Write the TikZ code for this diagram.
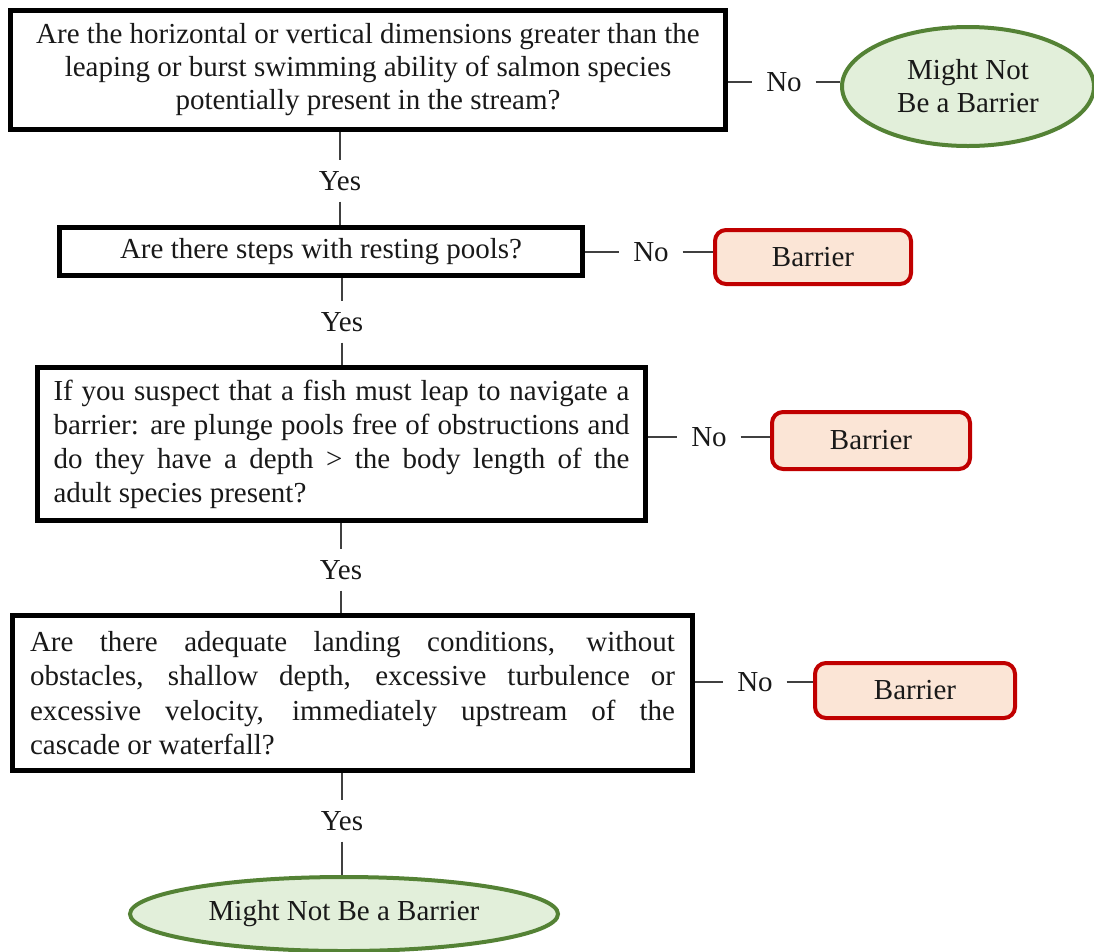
\documentclass[tikz,border=0pt]{standalone}
\usepackage{fontspec}
\setmainfont{Liberation Serif}
\usetikzlibrary{shapes.geometric}
\definecolor{grn}{HTML}{548235}
\definecolor{grnfill}{HTML}{E2EFDA}
\definecolor{red0}{HTML}{C00000}
\definecolor{redfill}{HTML}{FBE5D6}
\definecolor{conn}{HTML}{404040}
\begin{document}
\begin{tikzpicture}[x=1pt,y=-1pt,
  every node/.style={font=\fontsize{29}{33}\selectfont, text=black!90},
  qbox/.style={draw=black, line width=5pt, fill=white, rectangle, inner sep=0pt},
  barrierbox/.style={draw=red0, fill=redfill, line width=4pt, rounded corners=11pt, inner sep=0pt},
  endell/.style={draw=grn, fill=grnfill, line width=4pt, ellipse, inner sep=0pt, align=center},
  yeslbl/.style={inner xsep=0pt, inner ysep=11pt, outer sep=0pt},
  nolbl/.style={inner xsep=14pt, inner ysep=0pt, outer sep=0pt},
  link/.style={draw=conn, line width=2pt}]
\useasboundingbox (0,0) rectangle (1094,951);

% question boxes
\node[qbox, minimum width=715pt, minimum height=119pt, align=center] (q1) at (368,70)
  {Are the horizontal or vertical dimensions greater than the\\leaping or burst swimming ability of salmon species\\potentially present in the stream?};
\node[qbox, minimum width=523pt, minimum height=48pt] (q2) at (321,251.5)
  {\raisebox{-1.5pt}{Are there steps with resting pools?}};
\node[qbox, minimum width=608pt, minimum height=153pt] (q3) at (341.5,444)
  {\parbox{576pt}{\fontsize{29}{34}\selectfont If you suspect that a fish must leap to navigate a\linebreak[4] barrier: are plunge pools free of obstructions and\linebreak[4] do they have a depth > the body length of the\linebreak[4] adult species present?}};
\node[qbox, minimum width=680pt, minimum height=155pt] (q4) at (352.5,693)
  {\parbox{645pt}{\fontsize{29}{34.5}\selectfont Are there adequate landing conditions, without\linebreak[4] obstacles, shallow depth, excessive turbulence or\linebreak[4] excessive velocity, immediately upstream of the\linebreak[4] cascade or waterfall?}};

% outcomes
\node[endell, minimum width=252pt, minimum height=119pt] (e1) at (968,86.5) {Might Not\\Be a Barrier};
\node[barrierbox, minimum width=196pt, minimum height=54pt] (b1) at (813,257) {Barrier};
\node[barrierbox, minimum width=198pt, minimum height=57pt] (b2) at (871,440.5) {Barrier};
\node[barrierbox, minimum width=200pt, minimum height=55pt] (b3) at (915,690.5) {Barrier};
\node[endell, minimum width=428pt, minimum height=74pt] (e2) at (344,914) {\raisebox{-2pt}{Might Not Be a Barrier}};

% labels
\node[yeslbl] (y1) at (340,181) {Yes};
\node[yeslbl] (y2) at (342,322) {Yes};
\node[yeslbl] (y3) at (341,570) {Yes};
\node[yeslbl] (y4) at (342,821) {Yes};
\node[nolbl] (n1) at (784,82) {No};
\node[nolbl] (n2) at (651,252) {No};
\node[nolbl] (n3) at (709,437) {No};
\node[nolbl] (n4) at (755,682) {No};

% connectors: Yes
\draw[link] (y1 |- q1.south) -- (y1.north);
\draw[link] (y1.south) -- (y1 |- q2.north);
\draw[link] (y2 |- q2.south) -- (y2.north);
\draw[link] (y2.south) -- (y2 |- q3.north);
\draw[link] (y3 |- q3.south) -- (y3.north);
\draw[link] (y3.south) -- (y3 |- q4.north);
\draw[link] (y4 |- q4.south) -- (y4.north);
\draw[link] (y4.south) -- (y4.south |- e2.north);

% connectors: No
\draw[link] (q1.east |- n1) -- (n1.west);
\draw[link] (n1.east) -- (e1.west |- n1);
\draw[link] (q2.east |- n2) -- (n2.west);
\draw[link] (n2.east) -- (b1.west |- n2);
\draw[link] (q3.east |- n3) -- (n3.west);
\draw[link] (n3.east) -- (b2.west |- n3);
\draw[link] (q4.east |- n4) -- (n4.west);
\draw[link] (n4.east) -- (b3.west |- n4);
\end{tikzpicture}
\end{document}
